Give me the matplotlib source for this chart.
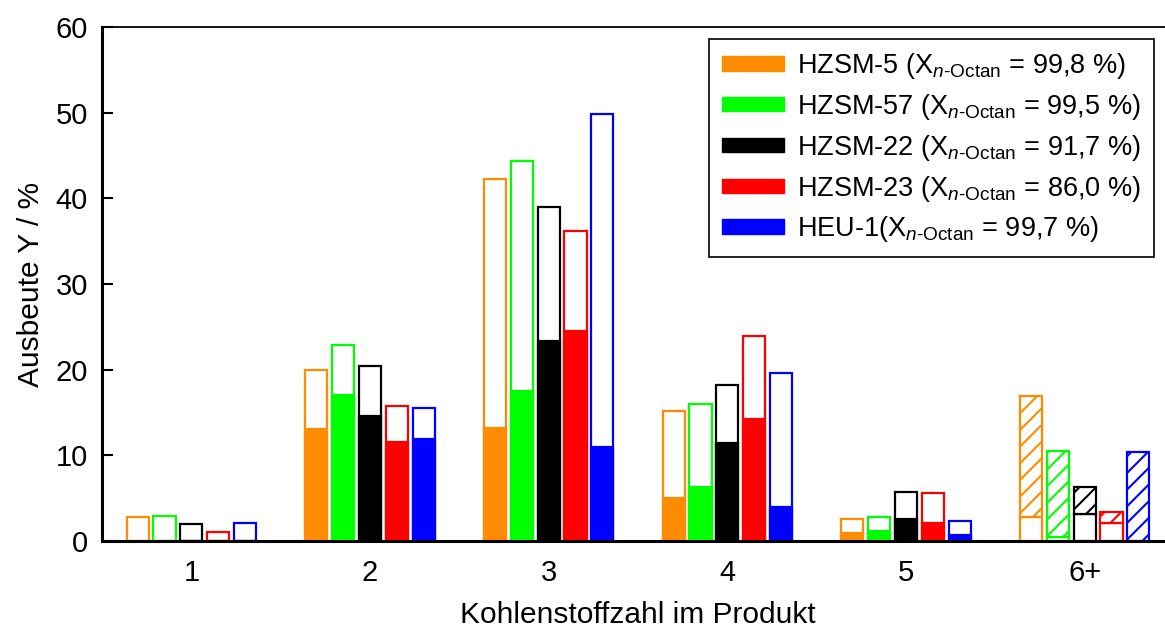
import numpy as np
import matplotlib.pyplot as plt

plt.rcParams['font.family'] = ['Liberation Sans', 'DejaVu Sans']
plt.rcParams['mathtext.fontset'] = 'custom'
plt.rcParams['mathtext.rm'] = 'Liberation Sans'
plt.rcParams['mathtext.it'] = 'Liberation Sans:italic'
plt.rcParams['hatch.linewidth'] = 1.5

categories = ['1', '2', '3', '4', '5', '6+']
series = ['HZSM-5', 'HZSM-57', 'HZSM-22', 'HZSM-23', 'HEU-1']
conversion = ['99,8', '99,5', '91,7', '86,0', '99,7']
colors = ['#FF8C00', '#00FF00', '#000000', '#FF0000', '#0000FF']

# Gesamtausbeute (Umriss)
total = [
    [2.84, 19.96, 42.3, 15.2, 2.57, 16.9],    # HZSM-5
    [2.95, 22.9, 44.35, 15.95, 2.8, 10.54],   # HZSM-57
    [2.02, 20.4, 39.0, 18.25, 5.72, 6.26],    # HZSM-22
    [1.09, 15.76, 36.2, 23.9, 5.64, 3.42],    # HZSM-23
    [2.1, 15.5, 49.9, 19.65, 2.3, 10.43],     # HEU-1
]
# gefuellter Anteil
part = [
    [0, 13.07, 13.2, 5.0, 0.93, 2.84],
    [0, 17.0, 17.5, 6.35, 1.13, 0.5],
    [0, 14.55, 23.35, 11.45, 2.57, 3.15],
    [0, 11.6, 24.5, 14.2, 2.14, 2.14],
    [0, 11.9, 10.97, 4.0, 0.67, 0],
]

fig = plt.figure(figsize=(11.65, 6.32), dpi=100)
ax = fig.add_axes([102 / 1165, 91 / 632, 1072 / 1165, 514 / 632])

x = np.arange(1, len(categories) + 1)
step = 0.15
width = 0.124
lw = 1.6

for i, (name, c) in enumerate(zip(series, colors)):
    xi = x + (i - 2) * step
    tot = np.array(total[i])
    low = np.array(part[i])
    # Gruppen 1-5: gefuellt + Umriss
    ax.bar(xi[:5], low[:5], width, color=c, edgecolor=c, linewidth=lw)
    ax.bar(xi[:5], tot[:5], width, facecolor='none', edgecolor=c, linewidth=lw)
    # Gruppe 6+: weiss unten, schraffiert oben
    ax.bar(xi[5], low[5], width, facecolor='white', edgecolor=c, linewidth=lw)
    ax.bar(xi[5], tot[5] - low[5], width, bottom=low[5], facecolor='white',
           edgecolor=c, linewidth=lw, hatch='//')

ax.set_xlim(0.5, 6.5)
ax.set_ylim(0, 60)
ax.set_yticks(np.arange(0, 61, 10))
ax.set_xticks(x)
ax.set_xticklabels(categories)
ax.tick_params(axis='y', direction='in', length=8, width=1.5, labelsize=21, pad=10)
ax.tick_params(axis='x', length=0, labelsize=21, pad=13)
for s in ['left', 'bottom']:
    ax.spines[s].set_linewidth(2.2)
ax.spines['top'].set_linewidth(1.3)
ax.spines['right'].set_visible(False)

ax.set_xlabel('Kohlenstoffzahl im Produkt', fontsize=21.5, labelpad=10)
ax.set_ylabel('Ausbeute Y / %', fontsize=21.5, labelpad=8)

labels = []
for name, conv in zip(series, conversion):
    sep = '' if name == 'HEU-1' else ' '
    labels.append(name + sep + r'(X$_{\mathit{n}\text{-Octan}}$ = ' + conv + ' %)')

handles = [plt.Rectangle((0, 0), 1, 1, color=c) for c in colors]
leg = ax.legend(handles, labels, loc='upper right', bbox_to_anchor=(0.981, 0.977),
                borderaxespad=0, fontsize=19.5, frameon=True, fancybox=False,
                edgecolor='black', framealpha=1, handlelength=2.3,
                handleheight=0.45, handletextpad=0.5, labelspacing=0.4,
                borderpad=0.45)
leg.get_frame().set_linewidth(1.2)

fig.savefig('out.png', dpi=100)
